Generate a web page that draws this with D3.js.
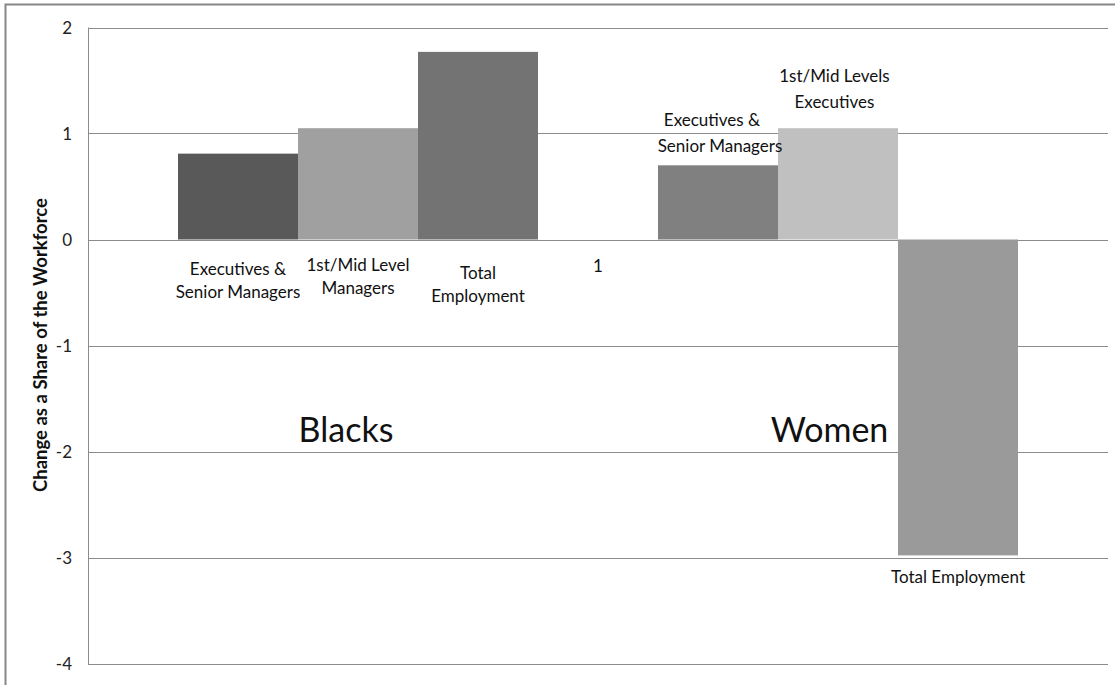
<!DOCTYPE html>
<html><head><meta charset="utf-8">
<script src="https://cdn.jsdelivr.net/npm/d3@7"></script>
<style>body{margin:0;background:#fff}svg{display:block}text{font-family:Lato,"Open Sans",sans-serif}</style>
</head><body>
<svg id="c" width="1115" height="685"></svg>
<script>
// Data
const slots = ["bExec","bMid","bTotal","gap","wExec","wMid","wTotal"];
const values = [0.81, 1.05, 1.77, null, 0.70, 1.05, -2.98];
const colors = ["#595959","#a0a0a0","#737373",null,"#808080","#c0c0c0","#9a9a9a"];
const barLabels = [
  ["Executives &","Senior Managers"],
  ["1st/Mid Level","Managers"],
  ["Total","Employment"],
  ["1"],
  ["Executives &","Senior Managers"],
  ["1st/Mid Levels","Executives"],
  ["Total Employment"]
];
const groupLabels = ["Blacks","Women"];
const yTicks = [2,1,0,-1,-2,-3,-4];
const yTitle = "Change as a Share of the Workforce";

const svg = d3.select("#c");
const pLeft = 88, pRight = 1108, pTop = 27.5, pBottom = 663.5;

const x = d3.scaleBand().domain(slots).range([pLeft, pRight]).paddingInner(0).paddingOuter(0.75);
const y = d3.scaleLinear().domain([-4, 2]).range([pBottom, pTop]);

// outer border
svg.append("path").attr("d","M5.5,685 L5.5,4.5 L1115,4.5").attr("fill","none").attr("stroke","#878787").attr("stroke-width",2);

// gridlines
svg.append("g").selectAll("line").data(yTicks).join("line")
  .attr("x1", pLeft).attr("x2", pRight)
  .attr("y1", d => Math.round(y(d))+0.5).attr("y2", d => Math.round(y(d))+0.5)
  .attr("stroke", "#8c8c8c").attr("stroke-width", 1);
// y axis line
svg.append("line").attr("x1", pLeft+0.5).attr("x2", pLeft+0.5).attr("y1", y(2)).attr("y2", y(-4)+1)
  .attr("stroke", "#8c8c8c");

// y tick labels
svg.append("g").selectAll("text").data(yTicks).join("text")
  .attr("x", 72).attr("y", d => y(d)+6)
  .attr("text-anchor","end").attr("font-size",17).attr("fill","#222")
  .text(d => d);

// y title
svg.append("text").attr("transform","translate(47,345) rotate(-90)")
  .attr("text-anchor","middle").attr("font-size",18.5).attr("font-weight","bold").attr("fill","#111")
  .text(yTitle);

// bars
const barData = slots.map((s,i)=>({s, v: values[i], c: colors[i]})).filter(d => d.v !== null);
svg.append("g").selectAll("rect").data(barData).join("rect")
  .attr("x", d => x(d.s)).attr("width", x.bandwidth())
  .attr("y", d => y(Math.max(0,d.v))).attr("height", d => Math.abs(y(d.v)-y(0)))
  .attr("fill", d => d.c);

// bar labels (positions relative to bands)
const labelPos = [
  {dx:0.5, y:275, lh:23},
  {dx:0.5, y:271, lh:23},
  {dx:0.5, y:279, lh:23},
  {dx:0.5, y:272, lh:23},
  {dx:0.45, y:126, lh:26},
  {dx:0.47, y:82, lh:26},
  {dx:0.5, y:583, lh:23}
];
slots.forEach((s,i) => {
  const p = labelPos[i];
  const t = svg.append("text").attr("text-anchor","middle").attr("font-size",17).attr("fill","#111");
  barLabels[i].forEach((ln,j) => {
    t.append("tspan").attr("x", x(s) + x.bandwidth()*p.dx + (i===4 && j===1 ? 8 : 0)).attr("y", p.y + j*p.lh).text(ln);
  });
});

// group labels
svg.append("text").attr("x", x("bMid") + x.bandwidth()*0.4).attr("y", 442)
  .attr("text-anchor","middle").attr("font-size",34).attr("fill","#111").text(groupLabels[0]);
svg.append("text").attr("x", x("wMid") + x.bandwidth()*0.43).attr("y", 442)
  .attr("text-anchor","middle").attr("font-size",34).attr("fill","#111").text(groupLabels[1]);
</script>
</body></html>
